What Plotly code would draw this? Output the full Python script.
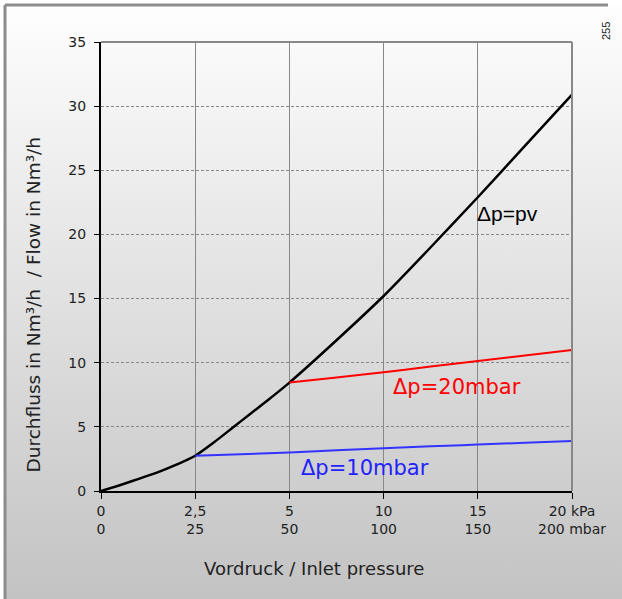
import plotly.graph_objects as go

# ---- data (x in kPa, y in Nm³/h) ----
pv_kpa = [0, 0.5, 1.0, 1.5, 2.0, 2.5, 3.0, 3.5, 4.0, 4.5, 5.0, 7.5, 10.0, 12.5, 15.0, 17.5, 20.0]
pv_flow = [0, 0.45, 0.95, 1.45, 2.05, 2.75, 3.8, 4.95, 6.1, 7.25, 8.45, 11.75, 15.2, 19.0, 22.9, 26.9, 30.9]

d20_kpa = [5.0, 7.5, 10.0, 12.5, 15.0, 17.5, 20.0]
d20_flow = [8.45, 8.85, 9.25, 9.7, 10.13, 10.57, 11.0]

d10_kpa = [2.5, 5.0, 7.5, 10.0, 12.5, 15.0, 17.5, 20.0]
d10_flow = [2.75, 3.0, 3.17, 3.33, 3.48, 3.62, 3.76, 3.9]

tick_kpa = [0, 2.5, 5, 10, 15, 20]
tick_labels = ["0<br>0", "2,5<br>25", "5<br>50", "10<br>100", "15<br>150", "20 kPa<br>200 mbar"]
y_ticks = [0, 5, 10, 15, 20, 25, 30, 35]


# piecewise axis: ticks equally spaced (0, 2.5, 5, 10, 15, 20 kPa)
def pos(k):
    for i in range(len(tick_kpa) - 1):
        a, b = tick_kpa[i], tick_kpa[i + 1]
        if k <= b or i == len(tick_kpa) - 2:
            return i + (k - a) / (b - a)


def to_pos(arr):
    return [pos(v) for v in arr]


FONT = "DejaVu Sans, Arial, sans-serif"
ARIAL = "Arial, Liberation Sans, sans-serif"

fig = go.Figure()
fig.add_trace(go.Scatter(x=to_pos(pv_kpa), y=pv_flow, mode="lines", line=dict(color="#000000", width=2.5, shape="spline", smoothing=0.8), hoverinfo="skip"))
fig.add_trace(go.Scatter(x=to_pos(d20_kpa), y=d20_flow, mode="lines", line=dict(color="#ff0000", width=2, shape="spline"), hoverinfo="skip"))
fig.add_trace(go.Scatter(x=to_pos(d10_kpa), y=d10_flow, mode="lines", line=dict(color="#3333ff", width=2, shape="spline"), hoverinfo="skip"))

svg = ("data:image/svg+xml;utf8,<svg xmlns='http://www.w3.org/2000/svg' width='100' height='100' preserveAspectRatio='none'>"
       "<defs><linearGradient id='g' x1='0' y1='0' x2='0' y2='1'>"
       "<stop offset='0' stop-color='%23fefefe'/><stop offset='1' stop-color='%23c3c3c3'/></linearGradient></defs>"
       "<rect width='100' height='100' fill='url(%23g)'/></svg>")

W, H = 622, 599
L, R, T, B = 101, 50, 42, 108
pw, ph = W - L - R, H - T - B


def px(xp):
    return (xp - L) / pw


def py(yp):
    return (H - B - yp) / ph


fig.update_layout(
    width=W, height=H,
    margin=dict(l=L, r=R, t=T, b=B, autoexpand=False),
    paper_bgcolor="#ffffff",
    plot_bgcolor="#ffffff",
    showlegend=False,
    font=dict(family=FONT, color="#222222", size=14),
    images=[dict(source=svg, xref="paper", yref="paper", x=px(5), y=py(5), sizex=px(W) - px(5), sizey=py(5) - py(H),
                 xanchor="left", yanchor="top", sizing="stretch", layer="below")],
    xaxis=dict(range=[0, 5], tickvals=to_pos(tick_kpa), ticktext=tick_labels, showgrid=True, gridcolor="#888888", gridwidth=1,
               showline=True, linecolor="#000000", linewidth=2, ticks="outside", ticklen=6, tickcolor="#000000",
               zeroline=False, tickfont=dict(size=14, color="#222222", family=FONT), fixedrange=True),
    yaxis=dict(range=[0, 35], tickvals=y_ticks, showgrid=True, gridcolor="#888888", gridwidth=1, griddash="3px,2px",
               showline=True, linecolor="#000000", linewidth=2, ticks="outside", ticklen=5, tickcolor="#000000",
               ticklabelstandoff=5,
               zeroline=False, tickfont=dict(size=14, color="#222222", family=FONT), fixedrange=True),
    shapes=[
        dict(type="line", xref="paper", yref="paper", x0=0, x1=1, y0=1, y1=1, line=dict(color="#888888", width=2)),
        dict(type="line", xref="paper", yref="paper", x0=1, x1=1, y0=0, y1=1, line=dict(color="#888888", width=2)),
        dict(type="line", xref="paper", yref="paper", x0=px(5), x1=px(608), y0=py(5), y1=py(5), line=dict(color="#8c8c8c", width=3)),
        dict(type="line", xref="paper", yref="paper", x0=px(5), x1=px(5), y0=py(5), y1=py(H), line=dict(color="#8c8c8c", width=3)),
    ],
    annotations=[
        dict(x=pos(16.6), y=21.6, text="\u0394p=pv", showarrow=False, font=dict(size=21, color="#000000", family=ARIAL)),
        dict(x=pos(13.9), y=8.1, text="\u0394p=20mbar", showarrow=False, font=dict(size=21, color="#ff0000", family=FONT)),
        dict(x=pos(9.0), y=1.8, text="\u0394p=10mbar", showarrow=False, font=dict(size=21, color="#2222ff", family=FONT)),
        dict(xref="paper", yref="paper", x=px(314), y=py(581), text="Vordruck / Inlet pressure", showarrow=False,
             font=dict(size=18, color="#222222")),
        dict(xref="paper", yref="paper", x=px(20), y=py(305), text="Durchfluss in Nm\u00b3/h  / Flow in Nm\u00b3/h", showarrow=False,
             textangle=-90, font=dict(size=18.5, color="#222222")),
        dict(xref="paper", yref="paper", x=px(614), y=py(20), text="255", showarrow=False, textangle=-90,
             font=dict(size=11, color="#222222", family=ARIAL)),
    ],
)

fig.write_html("out.html", config={"displayModeBar": False},
               post_script="document.body.style.margin='0';document.body.style.overflow='hidden';")
